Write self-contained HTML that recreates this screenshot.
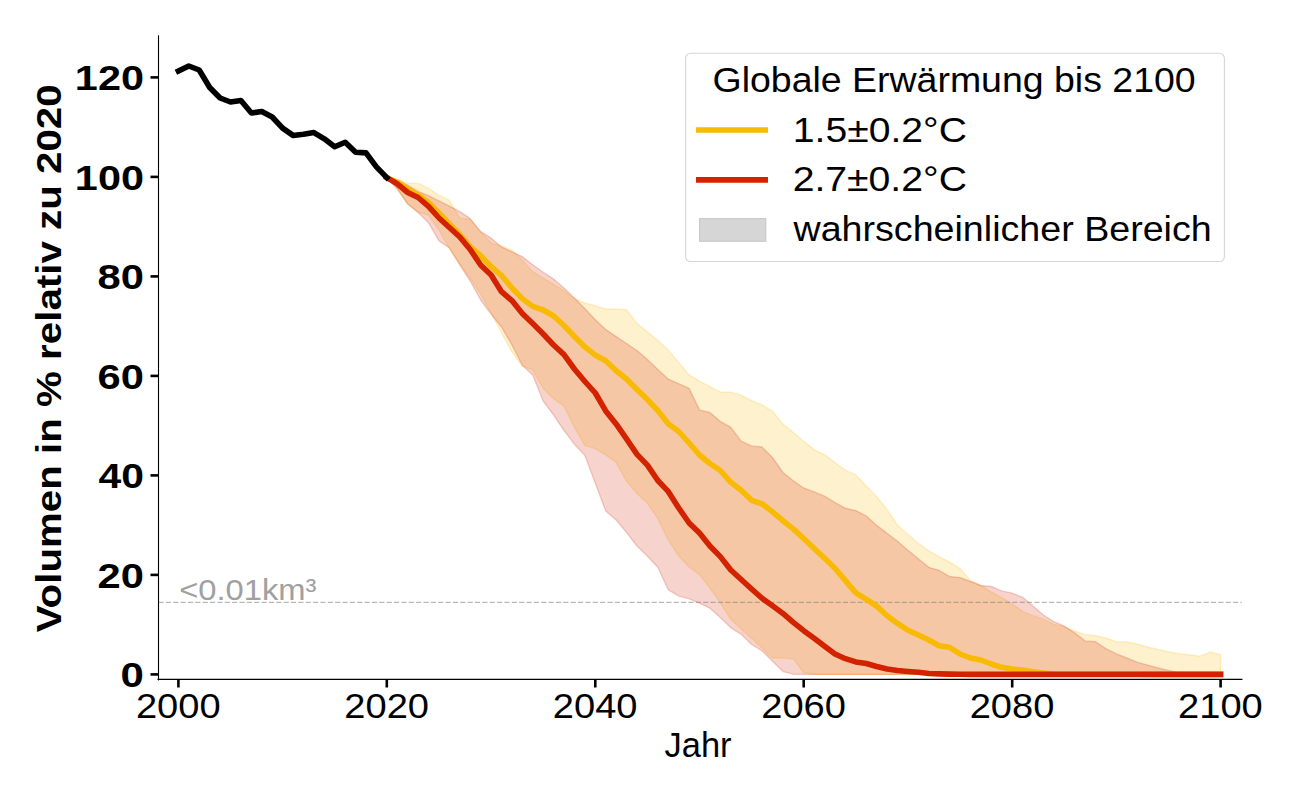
<!DOCTYPE html>
<html><head><meta charset="utf-8"><style>
html,body{margin:0;padding:0;background:#fff;width:1300px;height:800px;overflow:hidden}
svg{display:block}
</style></head><body>
<svg width="1300" height="800" viewBox="0 0 1300 800">
<path d="M386.8,177.6 L397.3,179.1 L407.7,183.1 L418.1,183.4 L428.5,188.2 L439,195.4 L449.4,200.4 L459.8,218 L470.2,219.5 L480.6,232.1 L491.1,242.8 L501.5,246.2 L511.9,249.9 L522.3,260.1 L532.7,271.6 L543.2,278.1 L553.6,284.4 L564,290.9 L574.4,298.7 L584.9,302.8 L595.3,305.8 L605.7,309 L616.1,309 L626.5,309.7 L637,323.3 L647.4,331.9 L657.8,340.2 L668.2,349.9 L678.7,362.4 L689.1,374.9 L699.5,381.1 L709.9,386.6 L720.3,392 L730.8,392.2 L741.2,395.2 L751.6,400.6 L762,405 L772.5,411.2 L782.9,423.9 L793.3,432.4 L803.7,441.2 L814.1,449.6 L824.6,454.8 L835,462.5 L845.4,470.2 L855.8,474.8 L866.3,485.9 L876.7,496.7 L887.1,509.4 L897.5,525 L907.9,534.4 L918.4,543.3 L928.8,550.8 L939.2,556.7 L949.6,562.1 L960.1,568.6 L970.5,580.4 L980.9,585.6 L991.3,592.1 L1001.7,597.7 L1012.2,603.7 L1022.6,611.4 L1033,615.7 L1043.4,619.2 L1053.8,624.4 L1064.3,626.8 L1074.7,631.1 L1085.1,634.4 L1095.5,635.8 L1106,638 L1116.4,641.7 L1126.8,642 L1137.2,644 L1147.6,647 L1158.1,649.5 L1168.5,651.7 L1178.9,653.8 L1189.3,654.7 L1199.8,656.2 L1210.2,652.1 L1220.6,654.6 L1220.6,674.4 L1210.2,674.4 L1199.8,674.4 L1189.3,674.4 L1178.9,674.4 L1168.5,674.4 L1158.1,674.4 L1147.6,674.4 L1137.2,674.4 L1126.8,674.4 L1116.4,674.4 L1106,674.4 L1095.5,674.4 L1085.1,674.4 L1074.7,674.4 L1064.3,674.4 L1053.8,674.4 L1043.4,674.4 L1033,674.4 L1022.6,674.4 L1012.2,674.4 L1001.7,674.4 L991.3,674.4 L980.9,674.4 L970.5,674.4 L960.1,674.4 L949.6,674.4 L939.2,674.4 L928.8,674.4 L918.4,674.4 L907.9,674.4 L897.5,674.4 L887.1,674.4 L876.7,674.4 L866.3,674.4 L855.8,674.4 L845.4,674.4 L835,674.4 L824.6,674.4 L814.1,674.4 L803.7,672.5 L793.3,658.9 L782.9,658 L772.5,658 L762,648 L751.6,638.4 L741.2,628.9 L730.8,619.3 L720.3,602.7 L709.9,588.1 L699.5,574.6 L689.1,567.1 L678.7,556 L668.2,540.1 L657.8,518.7 L647.4,503.2 L637,493.4 L626.5,481.2 L616.1,462.3 L605.7,454.9 L595.3,448.6 L584.9,445.6 L574.4,427.1 L564,406.3 L553.6,398.8 L543.2,388.4 L532.7,369.7 L522.3,366.2 L511.9,352 L501.5,333 L491.1,312.8 L480.6,294 L470.2,278 L459.8,264 L449.4,249 L439,230 L428.5,215.2 L418.1,212.2 L407.7,204 L397.3,189 L386.8,177.6 Z" fill="#f9ba04" fill-opacity="0.2" stroke="#f9ba04" stroke-opacity="0.2" stroke-width="1.39" stroke-linejoin="round"/>
<path d="M386.8,177.6 L397.3,179.9 L407.7,185.1 L418.1,191.5 L428.5,195.7 L439,200.9 L449.4,206.1 L459.8,211.6 L470.2,218.6 L480.6,231.4 L491.1,238.1 L501.5,247 L511.9,251.8 L522.3,256.6 L532.7,264.8 L543.2,272.2 L553.6,279.1 L564,288 L574.4,298 L584.9,308.8 L595.3,319.8 L605.7,329.6 L616.1,336.6 L626.5,343.5 L637,350.5 L647.4,359.6 L657.8,369.5 L668.2,379.1 L678.7,383.7 L689.1,388.3 L699.5,409.9 L709.9,412.5 L720.3,421.4 L730.8,427.3 L741.2,441.2 L751.6,445.9 L762,447 L772.5,457.5 L782.9,472.5 L793.3,480.8 L803.7,488 L814.1,491.9 L824.6,496.2 L835,502.5 L845.4,508.3 L855.8,510.6 L866.3,516 L876.7,525.4 L887.1,533.3 L897.5,541.3 L907.9,550.3 L918.4,558.9 L928.8,567.3 L939.2,570.5 L949.6,576.5 L960.1,577.6 L970.5,581.5 L980.9,585.5 L991.3,586.5 L1001.7,590.9 L1012.2,593.1 L1022.6,597.3 L1033,605.9 L1043.4,615 L1053.8,621.7 L1064.3,626.1 L1074.7,632.9 L1085.1,640.9 L1095.5,641.8 L1106,648.7 L1116.4,653.9 L1126.8,658 L1137.2,662.2 L1147.6,665.1 L1158.1,668 L1168.5,670.4 L1178.9,672.8 L1189.3,674.4 L1199.8,674.4 L1210.2,674.4 L1220.6,674.4 L1220.6,674.4 L1210.2,674.4 L1199.8,674.4 L1189.3,674.4 L1178.9,674.4 L1168.5,674.4 L1158.1,674.4 L1147.6,674.4 L1137.2,674.4 L1126.8,674.4 L1116.4,674.4 L1106,674.4 L1095.5,674.4 L1085.1,674.4 L1074.7,674.4 L1064.3,674.4 L1053.8,674.4 L1043.4,674.4 L1033,674.4 L1022.6,674.4 L1012.2,674.4 L1001.7,674.4 L991.3,674.4 L980.9,674.4 L970.5,674.4 L960.1,674.4 L949.6,674.4 L939.2,674.4 L928.8,674.4 L918.4,674.4 L907.9,674.4 L897.5,674.4 L887.1,674.4 L876.7,674.4 L866.3,674.4 L855.8,674.4 L845.4,674.4 L835,674.4 L824.6,674.4 L814.1,674.4 L803.7,674.4 L793.3,674.2 L782.9,671.6 L772.5,661.2 L762,650.8 L751.6,644.5 L741.2,634.3 L730.8,627.8 L720.3,617.6 L709.9,608.2 L699.5,603.2 L689.1,598.8 L678.7,596.1 L668.2,589.7 L657.8,567.3 L647.4,556.3 L637,546 L626.5,532.4 L616.1,520 L605.7,511 L595.3,483.3 L584.9,455.4 L574.4,444.2 L564,430.5 L553.6,415 L543.2,401 L532.7,375.1 L522.3,365.2 L511.9,345 L501.5,327 L491.1,314 L480.6,300 L470.2,281 L459.8,265 L449.4,248 L439,241 L428.5,222.7 L418.1,212.6 L407.7,204 L397.3,189 L386.8,177.6 Z" fill="#d22200" fill-opacity="0.2" stroke="#d22200" stroke-opacity="0.2" stroke-width="1.39" stroke-linejoin="round"/>
<line x1="158.5" y1="602.4" x2="1241.9" y2="602.4" stroke="#808080" stroke-opacity="0.55" stroke-width="1.39" stroke-dasharray="5.14 2.22"/>
<path d="M386.8,177.6 L397.3,182.5 L407.7,188.8 L418.1,195 L428.5,202.5 L439,213 L449.4,224 L459.8,234.5 L470.2,246.5 L480.6,255.7 L491.1,266.5 L501.5,275.5 L511.9,288 L522.3,298.6 L532.7,306.4 L543.2,310 L553.6,316 L564,325.5 L574.4,336.5 L584.9,346.9 L595.3,355.1 L605.7,360.7 L616.1,370.8 L626.5,379 L637,389.5 L647.4,399.6 L657.8,410.5 L668.2,423.7 L678.7,431.5 L689.1,443 L699.5,455 L709.9,463.5 L720.3,470.5 L730.8,482.3 L741.2,490.2 L751.6,500.3 L762,503.8 L772.5,511.8 L782.9,520.7 L793.3,528.9 L803.7,538.5 L814.1,548.4 L824.6,558.2 L835,568.3 L845.4,580.6 L855.8,592.9 L866.3,599.3 L876.7,606.1 L887.1,615.7 L897.5,623.4 L907.9,630.3 L918.4,635 L928.8,640 L939.2,645.8 L949.6,647.3 L960.1,654 L970.5,658 L980.9,660 L991.3,664 L1001.7,667.3 L1012.2,669.1 L1022.6,670.1 L1033,671.8 L1043.4,673.1 L1053.8,674.1 L1064.3,674.3 L1074.7,674.3 L1085.1,674.3 L1095.5,674.3 L1106,674.3 L1116.4,674.3 L1126.8,674.3 L1137.2,674.3 L1147.6,674.4 L1158.1,674.4 L1168.5,674.4 L1178.9,674.4 L1189.3,674.4 L1199.8,674.4 L1210.2,674.4 L1220.6,674.4" fill="none" stroke="#f9ba04" stroke-width="5.56" stroke-linejoin="round" stroke-linecap="square"/>
<path d="M386.8,177.6 L397.3,183.8 L407.7,192.5 L418.1,197.5 L428.5,206.3 L439,218 L449.4,227.5 L459.8,237 L470.2,249.5 L480.6,265 L491.1,275 L501.5,291.7 L511.9,300.6 L522.3,313.5 L532.7,323.5 L543.2,334 L553.6,345 L564,354.6 L574.4,369 L584.9,381.5 L595.3,393 L605.7,410.9 L616.1,423.9 L626.5,438.8 L637,454.4 L647.4,465.1 L657.8,480.5 L668.2,491.4 L678.7,508 L689.1,523 L699.5,533 L709.9,546 L720.3,556.6 L730.8,570 L741.2,579.5 L751.6,589 L762,598.3 L772.5,605.8 L782.9,613.4 L793.3,622.3 L803.7,630.7 L814.1,638.3 L824.6,646.3 L835,653.9 L845.4,658.7 L855.8,661.9 L866.3,663.5 L876.7,666.5 L887.1,669 L897.5,670.5 L907.9,671.5 L918.4,672.3 L928.8,673.5 L939.2,673.9 L949.6,674.1 L960.1,674.3 L970.5,674.4 L980.9,674.4 L991.3,674.4 L1001.7,674.4 L1012.2,674.4 L1022.6,674.4 L1033,674.4 L1043.4,674.4 L1053.8,674.4 L1064.3,674.4 L1074.7,674.4 L1085.1,674.4 L1095.5,674.4 L1106,674.4 L1116.4,674.4 L1126.8,674.4 L1137.2,674.4 L1147.6,674.4 L1158.1,674.4 L1168.5,674.4 L1178.9,674.4 L1189.3,674.4 L1199.8,674.4 L1210.2,674.4 L1220.6,674.4" fill="none" stroke="#d22200" stroke-width="5.56" stroke-linejoin="round" stroke-linecap="square"/>
<path d="M178.4,71 L188.8,66 L199.2,70 L209.7,87.5 L220.1,98 L230.5,102 L240.9,100.5 L251.4,113 L261.8,111.5 L272.2,117 L282.6,128.1 L293,135.4 L303.5,134.3 L313.9,132.6 L324.3,138.8 L334.7,146.7 L345.2,142.2 L355.6,152.3 L366,152.9 L376.4,166.9 L386.8,177.6" fill="none" stroke="#000" stroke-width="5.56" stroke-linejoin="round" stroke-linecap="square"/>
<line x1="158.5" y1="35.9" x2="158.5" y2="679.9" stroke="#000" stroke-width="1.11" stroke-linecap="square"/>
<line x1="158" y1="679.4" x2="1241.9" y2="679.4" stroke="#000" stroke-width="1.11" stroke-linecap="square"/>
<line x1="150.5" y1="674.4" x2="158.5" y2="674.4" stroke="#000" stroke-width="2.6"/>
<line x1="150.5" y1="574.9" x2="158.5" y2="574.9" stroke="#000" stroke-width="2.6"/>
<line x1="150.5" y1="475.4" x2="158.5" y2="475.4" stroke="#000" stroke-width="2.6"/>
<line x1="150.5" y1="375.9" x2="158.5" y2="375.9" stroke="#000" stroke-width="2.6"/>
<line x1="150.5" y1="276.4" x2="158.5" y2="276.4" stroke="#000" stroke-width="2.6"/>
<line x1="150.5" y1="176.9" x2="158.5" y2="176.9" stroke="#000" stroke-width="2.6"/>
<line x1="150.5" y1="77.4" x2="158.5" y2="77.4" stroke="#000" stroke-width="2.6"/>
<line x1="178.4" y1="679.4" x2="178.4" y2="687.5" stroke="#000" stroke-width="2.6"/>
<line x1="386.8" y1="679.4" x2="386.8" y2="687.5" stroke="#000" stroke-width="2.6"/>
<line x1="595.3" y1="679.4" x2="595.3" y2="687.5" stroke="#000" stroke-width="2.6"/>
<line x1="803.7" y1="679.4" x2="803.7" y2="687.5" stroke="#000" stroke-width="2.6"/>
<line x1="1012.2" y1="679.4" x2="1012.2" y2="687.5" stroke="#000" stroke-width="2.6"/>
<line x1="1220.6" y1="679.4" x2="1220.6" y2="687.5" stroke="#000" stroke-width="2.6"/>
<rect x="685.6" y="53.3" width="538.8" height="208.2" rx="5" ry="5" fill="#fff" fill-opacity="0.8" stroke="#d6d6d6" stroke-width="1.11"/>
<line x1="698.8" y1="130" x2="765.2" y2="130" stroke="#f9ba04" stroke-width="5.56" stroke-linecap="square"/>
<line x1="698.8" y1="179.9" x2="765.2" y2="179.9" stroke="#d22200" stroke-width="5.56" stroke-linecap="square"/>
<rect x="699.6" y="218.6" width="66.2" height="22.7" fill="#d6d6d6" stroke="#c8c8c8" stroke-width="1.11"/>
<text x="120.63" y="687.20" font-family='"Liberation Sans", sans-serif' font-weight="bold" font-size="35.5" fill="#000" textLength="23.35" lengthAdjust="spacingAndGlyphs">0</text>
<text x="97.58" y="587.70" font-family='"Liberation Sans", sans-serif' font-weight="bold" font-size="35.5" fill="#000" textLength="46.38" lengthAdjust="spacingAndGlyphs">20</text>
<text x="98.47" y="488.20" font-family='"Liberation Sans", sans-serif' font-weight="bold" font-size="35.5" fill="#000" textLength="45.45" lengthAdjust="spacingAndGlyphs">40</text>
<text x="97.58" y="388.70" font-family='"Liberation Sans", sans-serif' font-weight="bold" font-size="35.5" fill="#000" textLength="46.38" lengthAdjust="spacingAndGlyphs">60</text>
<text x="97.58" y="289.20" font-family='"Liberation Sans", sans-serif' font-weight="bold" font-size="35.5" fill="#000" textLength="46.38" lengthAdjust="spacingAndGlyphs">80</text>
<text x="74.88" y="189.70" font-family='"Liberation Sans", sans-serif' font-weight="bold" font-size="35.5" fill="#000" textLength="69.05" lengthAdjust="spacingAndGlyphs">100</text>
<text x="74.88" y="90.20" font-family='"Liberation Sans", sans-serif' font-weight="bold" font-size="35.5" fill="#000" textLength="69.05" lengthAdjust="spacingAndGlyphs">120</text>
<text x="135.92" y="717.90" font-family='"Liberation Sans", sans-serif' font-weight="normal" font-size="35.5" fill="#000" textLength="84.67" lengthAdjust="spacingAndGlyphs">2000</text>
<text x="344.36" y="717.90" font-family='"Liberation Sans", sans-serif' font-weight="normal" font-size="35.5" fill="#000" textLength="84.67" lengthAdjust="spacingAndGlyphs">2020</text>
<text x="552.80" y="717.90" font-family='"Liberation Sans", sans-serif' font-weight="normal" font-size="35.5" fill="#000" textLength="84.67" lengthAdjust="spacingAndGlyphs">2040</text>
<text x="761.24" y="717.90" font-family='"Liberation Sans", sans-serif' font-weight="normal" font-size="35.5" fill="#000" textLength="84.67" lengthAdjust="spacingAndGlyphs">2060</text>
<text x="969.68" y="717.90" font-family='"Liberation Sans", sans-serif' font-weight="normal" font-size="35.5" fill="#000" textLength="84.67" lengthAdjust="spacingAndGlyphs">2080</text>
<text x="1178.12" y="717.90" font-family='"Liberation Sans", sans-serif' font-weight="normal" font-size="35.5" fill="#000" textLength="84.67" lengthAdjust="spacingAndGlyphs">2100</text>
<text x="664.51" y="757.00" font-family='"Liberation Sans", sans-serif' font-weight="normal" font-size="35.5" fill="#000" textLength="67.03" lengthAdjust="spacingAndGlyphs">Jahr</text>
<text x="179.16" y="599.60" font-family='"Liberation Sans", sans-serif' font-weight="normal" font-size="30" fill="#a0a0a0" textLength="137.34" lengthAdjust="spacingAndGlyphs">&lt;0.01km³</text>
<text x="712.55" y="91.90" font-family='"Liberation Sans", sans-serif' font-weight="normal" font-size="35.5" fill="#000" textLength="483.13" lengthAdjust="spacingAndGlyphs">Globale Erwärmung bis 2100</text>
<text x="792.87" y="142.20" font-family='"Liberation Sans", sans-serif' font-weight="normal" font-size="35.5" fill="#000" textLength="174.12" lengthAdjust="spacingAndGlyphs">1.5±0.2°C</text>
<text x="792.67" y="191.30" font-family='"Liberation Sans", sans-serif' font-weight="normal" font-size="35.5" fill="#000" textLength="174.32" lengthAdjust="spacingAndGlyphs">2.7±0.2°C</text>
<text x="793.50" y="240.60" font-family='"Liberation Sans", sans-serif' font-weight="normal" font-size="35.5" fill="#000" textLength="418.23" lengthAdjust="spacingAndGlyphs">wahrscheinlicher Bereich</text>
<text transform="translate(61,632.28) rotate(-90)" x="0" y="0" font-family='"Liberation Sans", sans-serif' font-weight="bold" font-size="35.5" textLength="547.93" lengthAdjust="spacingAndGlyphs">Volumen in % relativ zu 2020</text>
</svg>
</body></html>
